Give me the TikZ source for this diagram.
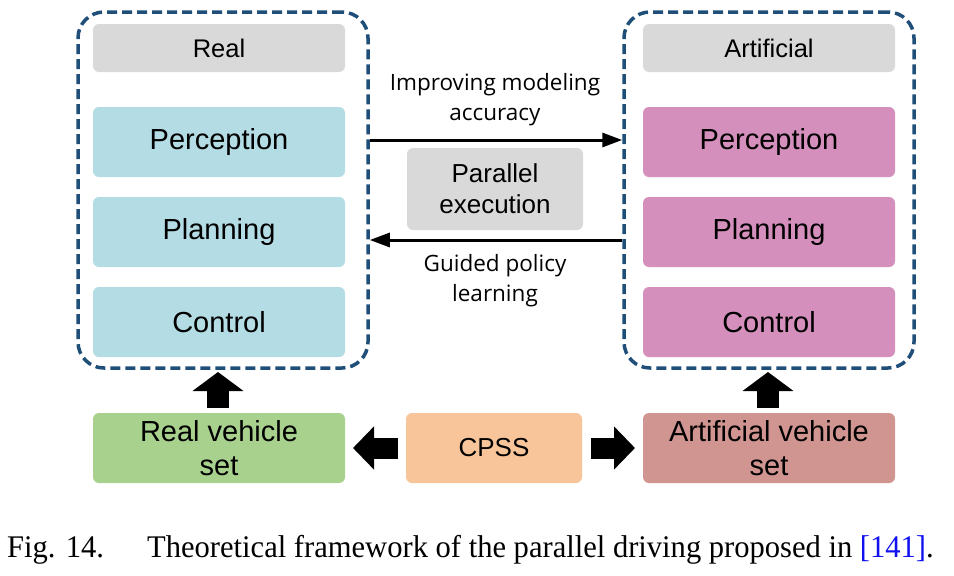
\documentclass[tikz,border=0pt]{standalone}
\usepackage{fontspec}
\setmainfont{Liberation Serif}
\newfontfamily\boxfont{Liberation Sans}
\newfontfamily\lblfont{Open Sans}
\usetikzlibrary{arrows.meta}
\definecolor{hdr}{HTML}{D9D9D9}
\definecolor{lblue}{HTML}{B4DCE4}
\definecolor{pink}{HTML}{D48FBC}
\definecolor{green}{HTML}{A9D18E}
\definecolor{orange}{HTML}{F8C59A}
\definecolor{rose}{HTML}{D19591}
\definecolor{dashblue}{HTML}{1F4E79}
\definecolor{refblue}{HTML}{1010F0}
\begin{document}
\begin{tikzpicture}[x=1pt,y=-1pt,
  box/.style={rounded corners=6pt, minimum width=252pt, minimum height=70pt, inner sep=0pt, align=center,
    font=\boxfont\fontsize{29}{34}\selectfont},
  hdrbox/.style={box, fill=hdr, minimum height=48pt, font=\boxfont\fontsize{25.5}{30}\selectfont},
  frame/.style={draw=dashblue, line width=3.5pt, dash pattern=on 10pt off 5pt, rounded corners=26pt,
    minimum width=290pt, minimum height=356pt, inner sep=0pt},
  lbl/.style={font=\lblfont\fontsize{22.5}{30}\selectfont, align=center, inner sep=0pt},
  thinarrow/.style={line width=3pt, -{Triangle[length=20pt,width=14pt]}},
  blockv/.style={line width=22pt, -{Triangle[length=19pt,width=50pt]}},
  blockh/.style={line width=21pt, -{Triangle[length=21pt,width=42pt]}},
  captext/.style={anchor=base west, inner sep=0pt, font=\fontsize{31.5}{34}\selectfont}
]
\useasboundingbox (0,0) rectangle (954,576);
% frames
\node[frame] (lframe) at (223,190) {};
\node[frame] (rframe) at (769,190) {};
% left column
\node[hdrbox] (real) at (219,48) {Real};
\node[box, fill=lblue] (lper) at (219,142) {Perception};
\node[box, fill=lblue] (lpla) at (219,232) {Planning};
\node[box, fill=lblue] (lcon) at (219,322) {Control};
% right column
\node[hdrbox] (art) at (769,48) {Artificial};
\node[box, fill=pink] (rper) at (769,142) {Perception};
\node[box, fill=pink] (rpla) at (769,232) {Planning};
\node[box, fill=pink] (rcon) at (769,322) {Control};
% middle
\node[box, fill=hdr, minimum width=176pt, minimum height=82pt, font=\boxfont\fontsize{26}{31}\selectfont] (par) at (495,189) {Parallel\\execution};
\coordinate (a1s) at (lframe.east |- 0,140);
\coordinate (a1e) at (rframe.west |- 0,140);
\coordinate (a2s) at (rframe.west |- 0,240);
\coordinate (a2e) at (lframe.east |- 0,240);
\draw[thinarrow] (a1s) -- (a1e);
\draw[thinarrow] (a2s) -- (a2e);
\node[lbl] (l1) at (495,100) {Improving modeling\\accuracy};
\node[lbl] (l2) at (495,281) {Guided policy\\learning};
% bottom
\node[box, fill=green] (rv) at (219,448) {Real vehicle\\set};
\node[box, fill=orange, minimum width=176pt, font=\boxfont\fontsize{26}{31}\selectfont] (cpss) at (494,448) {CPSS};
\node[box, fill=rose] (av) at (769,448) {Artificial vehicle\\set};
% block arrows
\coordinate (u1s) at (218,408);
\coordinate (u1e) at (218,372);
\coordinate (u2s) at (768,408);
\coordinate (u2e) at (768,372);
\draw[blockv] (u1s) -- (u1e);
\draw[blockv] (u2s) -- (u2e);
\coordinate (h1s) at (398,448);
\coordinate (h1e) at (353,448);
\coordinate (h2s) at (591,448);
\coordinate (h2e) at (635,448);
\draw[blockh] (h1s) -- (h1e);
\draw[blockh] (h2s) -- (h2e);
% caption
\node[captext] (capa) at (7,557) {\scalebox{0.97}[1]{Fig. 14.}};
\node[captext] (capb) at (147,557) {\scalebox{0.97}[1]{Theoretical framework of the parallel driving proposed in \textcolor{refblue}{[141]}.}};
\end{tikzpicture}
\end{document}
